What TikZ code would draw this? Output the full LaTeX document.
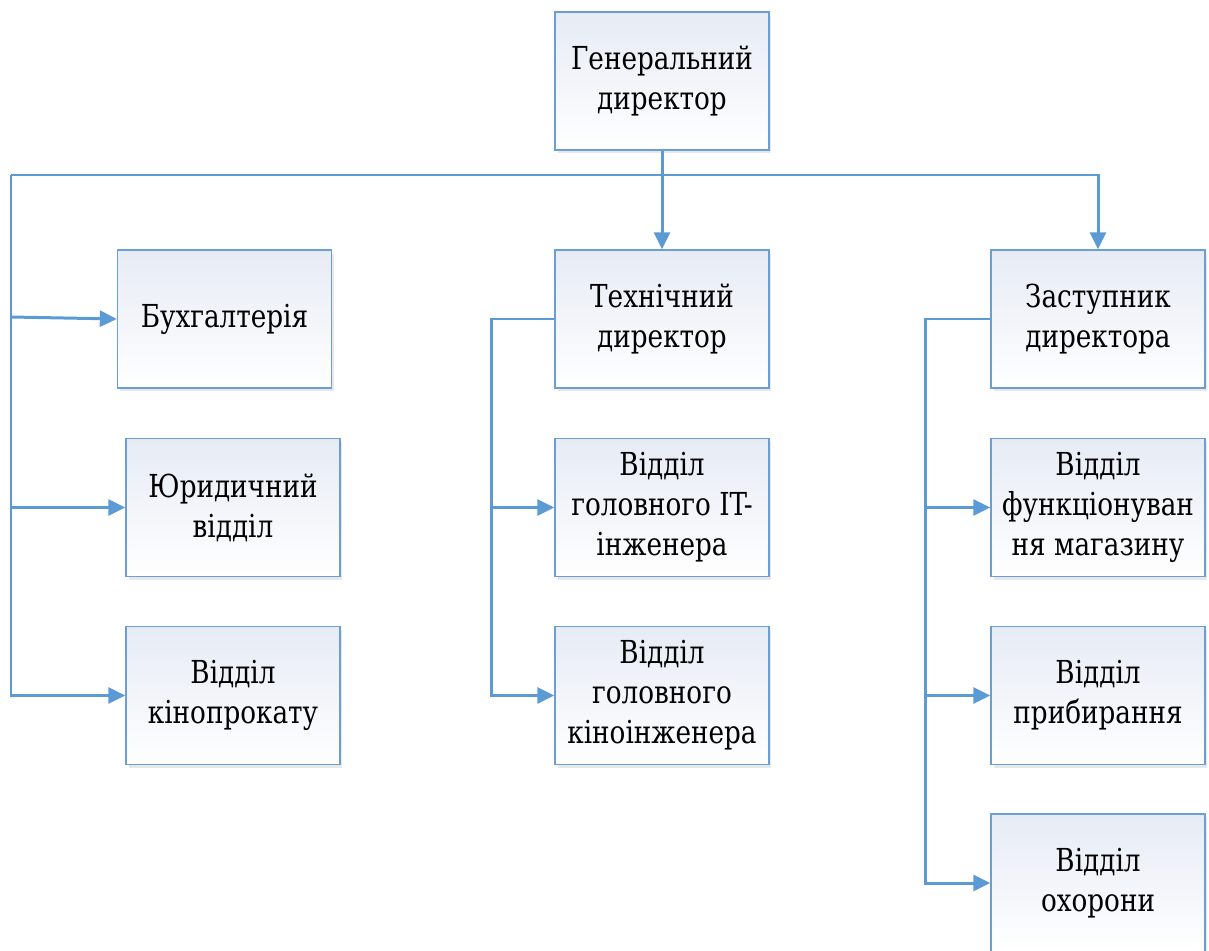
\documentclass[tikz,border=0pt]{standalone}
\usepackage{fontspec}
\setmainfont{DejaVu Serif}[FakeStretch=0.83]
\usepackage{tikz}
\usetikzlibrary{
  arrows.meta,
  shadows
}
\definecolor{linkblue}{HTML}{5B9BD5}
\definecolor{boxedge}{HTML}{6A9FD6}
\definecolor{boxtop}{HTML}{E6EBF5}

\begin{document}
\begin{tikzpicture}[
  x=0.02cm, y=-0.02cm,
  unit/.style={draw=boxedge, line width=0.8pt, top color=boxtop, bottom color=white,
    minimum width=4.28cm, minimum height=2.76cm, align=center, inner sep=2pt,
    font=\fontsize{18}{22.8}\selectfont,
    drop shadow={opacity=0.18, shadow xshift=0.05cm, shadow yshift=-0.07cm}},
  link/.style={draw=linkblue, line width=1.7pt},
  linkto/.style={link, -{Triangle[length=0.34cm, width=0.32cm]}}
]
\useasboundingbox (0,0) rectangle (1209,950);

% top
\node[unit] (gen) at (662,81) {Генеральний\\директор};

% left column
\node[unit] (buh)  at (224.5,319) {Бухгалтерія};
\node[unit] (yur)  at (233,507.5) {Юридичний\\відділ};
\node[unit] (kino) at (233,695.5) {Відділ\\кінопрокату};

% middle column
\node[unit] (tech)    at (662,319)   {Технічний\\директор};
\node[unit] (iteng)   at (662,507.5) {Відділ\\головного IT-\\інженера};
\node[unit] (kinoeng) at (662,695.5) {Відділ\\головного\\кіноінженера};

% right column
\node[unit] (zast) at (1098,319)   {Заступник\\директора};
\node[unit] (func) at (1098,507.5) {Відділ\\функціонуван\\ня магазину};
\node[unit] (prib) at (1098,695.5) {Відділ\\прибирання};
\node[unit] (ohor) at (1098,883)   {Відділ\\охорони};

\coordinate (jL) at (11,175);
\coordinate (bL) at (11,317);
\coordinate (tL) at (491,319);
\coordinate (zL) at (925,319);

\draw[linkto] (gen.south) -- (tech.north);
\draw[linkto] (jL) -| (zast.north);
\draw[linkto] (jL) |- (kino.west);
\draw[linkto] (bL) -- (buh.west);
\draw[linkto] (jL |- yur.west) -- (yur.west);

\draw[linkto] (tech.west) -- (tL) |- (kinoeng.west);
\draw[linkto] (tL |- iteng.west) -- (iteng.west);

\draw[linkto] (zast.west) -- (zL) |- (ohor.west);
\draw[linkto] (zL |- func.west) -- (func.west);
\draw[linkto] (zL |- prib.west) -- (prib.west);
\end{tikzpicture}
\end{document}
